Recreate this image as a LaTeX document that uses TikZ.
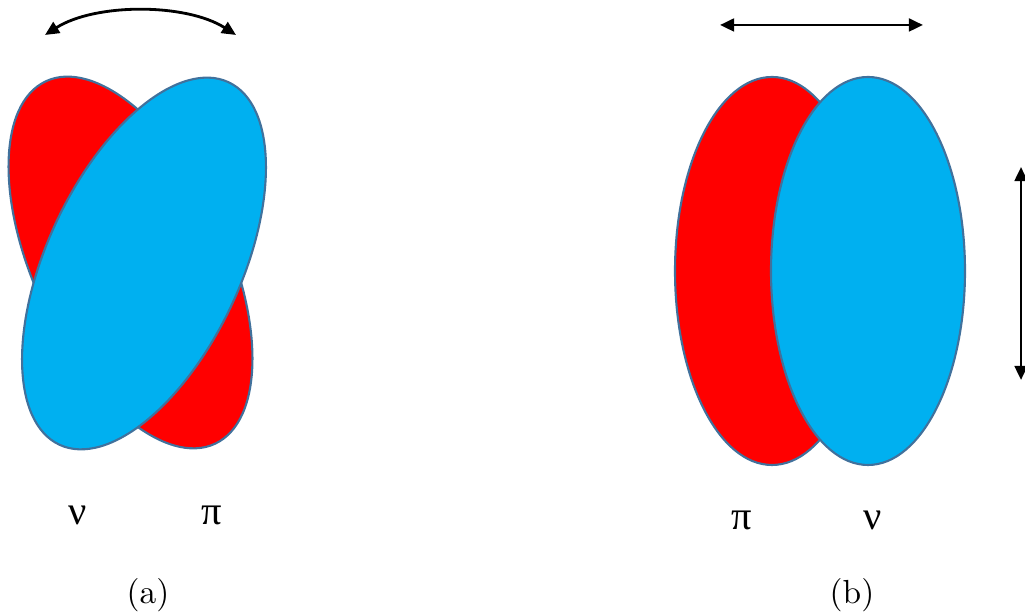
\documentclass[tikz,border=0pt]{standalone}
\usepackage{fontspec}
\newfontfamily\greekfont{Liberation Serif}
\usepackage{tikz}
\usetikzlibrary{arrows.meta, shapes.geometric}
\definecolor{protonred}{HTML}{FF0000}
\definecolor{neutronblue}{HTML}{00B0F0}
\definecolor{rimline}{HTML}{41719C}

\begin{document}
\begin{tikzpicture}[>={Triangle[length=4pt,width=3.6pt]},
  blob/.style={ellipse, draw=rimline, line width=0.6pt, fill=#1, minimum width=1.94cm, inner sep=0pt},
  mov/.style={<->, line width=0.8pt},
  lbl/.style={font=\greekfont\fontsize{11.5}{13}\selectfont, inner sep=0pt},
  subcap/.style={font=\fontsize{9.5}{11}\selectfont, inner sep=0pt}]
  \useasboundingbox (0,0) rectangle (10.25,6.13);
  % --- (a): tilted pair ---
  \node[blob=protonred, minimum height=4cm, rotate=25] (pa) at (1.305,3.505) {};
  \node[blob=neutronblue, minimum height=4cm, rotate=-25] (na) at (1.44,3.495) {};
  \coordinate (rockL) at (0.45,5.78);
  \coordinate (rockR) at (2.36,5.78);
  \draw[mov] (rockL) .. controls (0.95,6.10) and (1.86,6.10) .. (rockR);
  \node[lbl] (nuA) at (0.78,0.98) {ν};
  \node[lbl] (piA) at (2.12,0.98) {π};
  \node[subcap] (capA) at (1.48,0.18) {(a)};
  % --- (b): side by side ---
  \node[blob=protonred, minimum height=3.88cm] (pb) at (7.72,3.42) {};
  \node[blob=neutronblue, minimum height=3.88cm] (nb) at (8.68,3.42) {};
  \coordinate (slideL) at (7.20,5.88);
  \coordinate (slideR) at (9.23,5.88);
  \draw[mov] (slideL) -- (slideR);
  \coordinate (stretchT) at (10.21,4.46);
  \coordinate (stretchB) at (10.21,2.33);
  \draw[mov] (stretchT) -- (stretchB);
  \node[lbl] (piB) at (7.42,0.93) {π};
  \node[lbl] (nuB) at (8.73,0.93) {ν};
  \node[subcap] (capB) at (8.52,0.18) {(b)};
\end{tikzpicture}
\end{document}
